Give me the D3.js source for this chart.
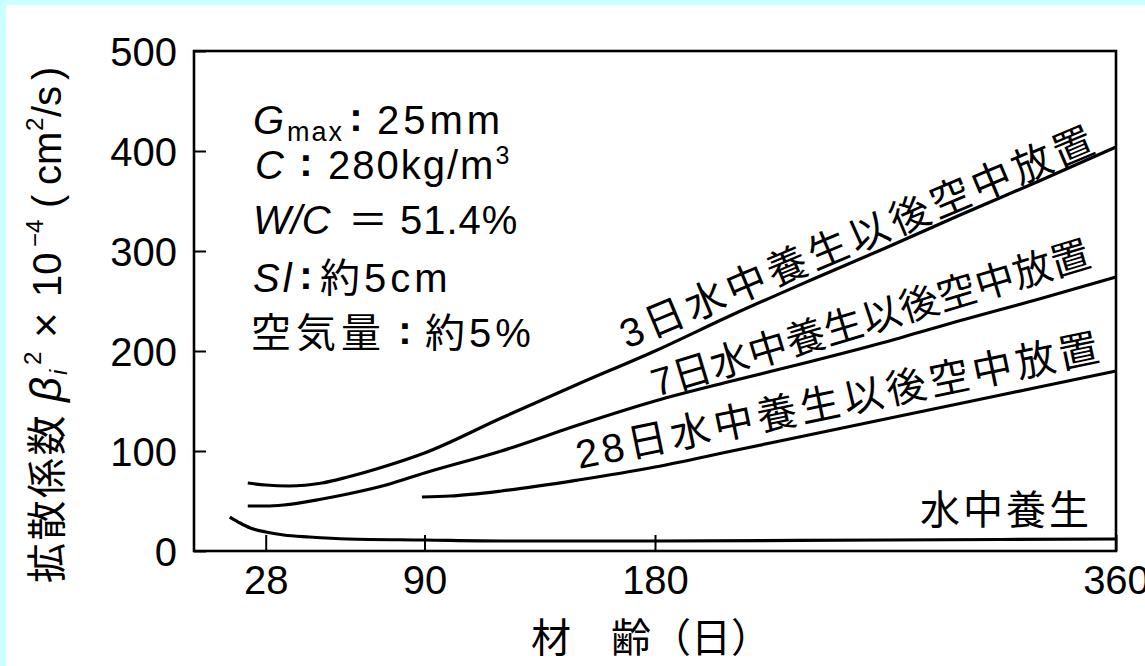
<!DOCTYPE html>
<html>
<head>
<meta charset="utf-8">
<script src="https://cdn.jsdelivr.net/npm/d3@7"></script>
<style>
  html, body { margin: 0; padding: 0; background: #ffffff; }
  svg { display: block; }
  text { fill: #000; }
</style>
</head>
<body>
<script>
// Diffusion coefficient of concrete vs. age, for four curing histories

// axis ticks
const xTicks = [28, 90, 180, 360];
const yTicks = [0, 100, 200, 300, 400, 500];

// series: age (days) and diffusion coefficient β² ×10⁻⁴ (cm²/s)
const air3Days  = [21, 28, 37, 50, 60, 75, 90, 120, 150, 180, 210, 240, 270, 300, 330, 360];
const air3Beta  = [68, 66, 65, 68, 74, 85, 98, 133, 167, 200, 236, 270, 303, 337, 370, 404];
const air7Days  = [21, 28, 35, 50, 60, 75, 90, 120, 150, 180, 210, 240, 270, 300, 330, 360];
const air7Beta  = [45, 45, 46, 52, 57, 66, 78, 100, 126, 150, 170, 189, 209, 231, 252, 274];
const air28Days = [89, 100, 120, 150, 180, 210, 240, 270, 300, 330, 360];
const air28Beta = [54, 55, 60, 71, 84, 100, 116, 132, 148, 164, 180];
const waterDays = [14, 18, 22, 28, 35, 45, 60, 90, 120, 180, 270, 360];
const waterBeta = [34, 28, 23, 19, 16, 14, 12, 11, 10, 10, 11, 12];

const seriesNames = [
  "3日水中養生以後空中放置",
  "7日水中養生以後空中放置",
  "28日水中養生以後空中放置",
  "水中養生"
];

const W = 1145, H = 666;
const LATIN = "'Liberation Sans', Arial, Helvetica, sans-serif";
const CJK = "'Noto Sans CJK JP', 'Liberation Sans', sans-serif";
const MIXED = "'Liberation Sans', 'Noto Sans CJK JP', sans-serif";

const svg = d3.select("body").append("svg")
  .attr("width", W).attr("height", H)
  .attr("viewBox", `0 0 ${W} ${H}`);

// page background with the cyan edge strips
svg.append("rect").attr("width", W).attr("height", H).attr("fill", "#ffffff");
svg.append("rect").attr("x", 0).attr("y", 0).attr("width", 6).attr("height", H).attr("fill", "#ccffff");
svg.append("rect").attr("x", 0).attr("y", 0).attr("width", W).attr("height", 5).attr("fill", "#ccffff");

const x = d3.scaleLinear().domain([0, 360]).range([194, 1116]);
const y = d3.scaleLinear().domain([0, 500]).range([551, 51]);

// y axis: inward ticks, labels on the left
const yAxis = svg.append("g")
  .attr("transform", `translate(${x(0)},0)`)
  .call(d3.axisLeft(y).tickValues(yTicks).tickSize(-12).tickPadding(17).tickFormat(d3.format("d")));
yAxis.select(".domain").remove();
yAxis.selectAll(".tick line").attr("stroke", "#000").attr("stroke-width", 2);
yAxis.selectAll(".tick text")
  .attr("font-family", LATIN).attr("font-size", 40).attr("fill", "#000").attr("dy", "0.35em");

// x axis: inward ticks, labels below
const xAxis = svg.append("g")
  .attr("transform", `translate(0,${y(0)})`)
  .call(d3.axisBottom(x).tickValues(xTicks).tickSize(-16).tickPadding(15).tickFormat(d3.format("d")));
xAxis.select(".domain").remove();
xAxis.selectAll(".tick line").attr("stroke", "#000").attr("stroke-width", 2);
xAxis.selectAll(".tick text")
  .attr("font-family", LATIN).attr("font-size", 40).attr("fill", "#000");

// plot frame
svg.append("rect")
  .attr("x", x(0)).attr("y", y(500))
  .attr("width", x(360) - x(0)).attr("height", y(0) - y(500))
  .attr("fill", "none").attr("stroke", "#000").attr("stroke-width", 2.6);

// curves
const line = d3.line()
  .x(d => x(d[0]))
  .y(d => y(d[1]))
  .curve(d3.curveMonotoneX);

const series = [
  d3.zip(air3Days, air3Beta),
  d3.zip(air7Days, air7Beta),
  d3.zip(air28Days, air28Beta),
  d3.zip(waterDays, waterBeta)
];

svg.append("g").selectAll("path")
  .data(series)
  .join("path")
  .attr("d", line)
  .attr("fill", "none")
  .attr("stroke", "#000")
  .attr("stroke-width", 3.2)
  .attr("stroke-linecap", "butt");

// labels running along the air-dried curves (baseline start/end on screen)
const slantLabels = [
  { name: seriesNames[0], x0: 627, y0: 349, x1: 1097, y1: 152, size: 40 },
  { name: seriesNames[1], x0: 656, y0: 397, x1: 1093, y1: 266, size: 39 },
  { name: seriesNames[2], x0: 579, y0: 469, x1: 1101, y1: 361, size: 40 }
];
slantLabels.forEach(l => {
  const ang = Math.atan2(l.y1 - l.y0, l.x1 - l.x0) * 180 / Math.PI;
  const len = Math.hypot(l.x1 - l.x0, l.y1 - l.y0);
  svg.append("text")
    .attr("transform", `translate(${l.x0},${l.y0}) rotate(${ang})`)
    .attr("font-family", MIXED)
    .attr("font-size", l.size)
    .attr("textLength", len)
    .attr("lengthAdjust", "spacing")
    .text(l.name);
});

// label of the water-cured curve
svg.append("text")
  .attr("x", 1092).attr("y", 524)
  .attr("text-anchor", "end")
  .attr("font-family", CJK).attr("font-size", 40)
  .attr("letter-spacing", 3)
  .text(seriesNames[3]);

// mix conditions block
const notes = svg.append("g").attr("font-family", MIXED).attr("font-size", 40);
const colon = (cx, cy) => notes.append("text")
  .attr("x", cx).attr("y", cy).attr("text-anchor", "middle")
  .attr("font-family", LATIN).attr("font-weight", "bold").text(":");

// line 1: G_max : 25mm
const n1 = notes.append("text").attr("y", 134);
n1.append("tspan").attr("x", 253).attr("font-style", "italic").text("G");
n1.append("tspan").attr("x", 287).attr("dy", 7).attr("font-size", 27).attr("letter-spacing", 2).text("max");
colon(356, 131);
notes.append("text").attr("x", 377).attr("y", 134).attr("letter-spacing", 4).text("25mm");

// line 2: C : 280kg/m³
notes.append("text").attr("x", 255).attr("y", 179).attr("font-style", "italic").text("C");
colon(306, 176);
const n2 = notes.append("text").attr("x", 328).attr("y", 179).attr("letter-spacing", 2);
n2.append("tspan").text("280kg/m");
n2.append("tspan").attr("dy", -15).attr("font-size", 25).text("3");

// line 3: W/C＝51.4%
notes.append("text").attr("x", 253).attr("y", 234).attr("font-style", "italic").text("W/C");
notes.append("text").attr("x", 368).attr("y", 234).attr("text-anchor", "middle").attr("font-family", CJK).text("＝");
notes.append("text").attr("x", 400).attr("y", 234).attr("letter-spacing", 1).text("51.4%");

// line 4: Sl : 約5cm
notes.append("text").attr("x", 253).attr("y", 292).attr("font-style", "italic").attr("letter-spacing", 3).text("Sl");
colon(306, 289);
notes.append("text").attr("x", 320).attr("y", 292).attr("letter-spacing", 4).text("約5cm");

// line 5: 空気量 : 約5%
notes.append("text").attr("x", 251).attr("y", 347).attr("font-family", CJK).attr("letter-spacing", 5).text("空気量");
colon(405, 344);
notes.append("text").attr("x", 425).attr("y", 347).attr("letter-spacing", 4).text("約5%");

// x axis title
svg.append("text")
  .attr("x", 531).attr("y", 652)
  .attr("font-family", CJK).attr("font-size", 40)
  .text("材　齢（日）");

// y axis title (rotated), built from pieces for the Greek symbol and exponents
const yt = svg.append("text")
  .attr("transform", "translate(61,583) rotate(-90)")
  .attr("font-family", MIXED).attr("font-size", 40);
yt.append("tspan").attr("x", 0).attr("font-family", CJK).attr("letter-spacing", 2.5).text("拡散係数");
yt.append("tspan").attr("x", 181).attr("font-style", "italic").attr("font-size", 44).text("β");
yt.append("tspan").attr("x", 208).attr("dy", 6).attr("font-style", "italic").attr("font-size", 24).text("i");
yt.append("tspan").attr("x", 218).attr("dy", -26).attr("font-size", 24).text("2");
yt.append("tspan").attr("x", 245).attr("dy", 20).attr("font-size", 44).text("×");
yt.append("tspan").attr("x", 286).text("10");
yt.append("tspan").attr("x", 336).attr("dy", -18).attr("font-size", 24).text("−4");
yt.append("tspan").attr("x", 375).attr("dy", 18).text("(");
yt.append("tspan").attr("x", 398).text("cm");
yt.append("tspan").attr("x", 452).attr("dy", -18).attr("font-size", 24).text("2");
yt.append("tspan").attr("x", 466).attr("dy", 18).text("/s");
yt.append("tspan").attr("x", 503).text(")");
</script>
</body>
</html>
